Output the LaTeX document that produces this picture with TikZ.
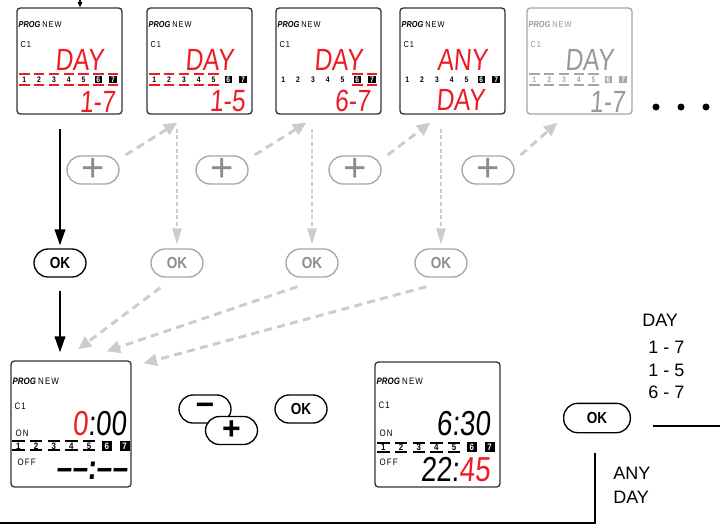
\documentclass[tikz,border=0pt]{standalone}
\usepackage{fontspec}
\setmainfont{Liberation Sans}
\newfontfamily\lcdfont[FakeStretch=0.8,FakeSlant=0.08]{Liberation Sans}
\newfontfamily\condfont[FakeStretch=0.85]{Liberation Sans}
\newfontfamily\spacedfont[FakeStretch=0.85,LetterSpace=12]{Liberation Sans}
\usetikzlibrary{calc,arrows.meta}

\definecolor{lcdred}{RGB}{237,28,36}
\tikzset{
  lcdframe/.style={draw=black!80,line width=1pt,rounded corners=2.5pt,inner sep=0pt,
    minimum width=78.75pt,minimum height=79.5pt},
  btn/.style={draw=black,fill=white,line width=1pt,rounded corners=10.5pt,inner sep=0pt,
    minimum width=39pt,minimum height=21pt},
  gbtn/.style={btn,draw=black!35,text=black!45},
  oktext/.style={font=\condfont\bfseries\fontsize{12}{12}\selectfont},
  plustext/.style={font=\fontsize{30}{30}\selectfont},
  small/.style={font=\condfont\fontsize{6.5}{6.5}\selectfont,anchor=west,inner sep=0pt},
  daynum/.style={font=\condfont\bfseries\fontsize{6}{6}\selectfont,inner sep=0pt,
    minimum size=5.5pt},
  lcdbig/.style={font=\lcdfont\fontsize{23}{23}\selectfont,inner sep=0pt},
  rtext/.style={font=\fontsize{13.5}{14}\selectfont,anchor=west,inner sep=0pt},
  blk/.style={line width=1.4pt,-{Triangle[length=12pt,width=8pt]}},
  gdash/.style={draw=black!20,line width=2.2pt,dash pattern=on 6pt off 4pt,
    -{Triangle[length=10pt,width=9pt]}},
  gdot/.style={draw=black!20,line width=0.9pt,dash pattern=on 3pt off 2pt,
    -{Triangle[length=12pt,width=7pt]}},
  frameline/.style={line width=1.1pt}
}
% header of a display: PROG NEW and C1
\newcommand{\proghead}[3]{%
  \node[small,text=#1] at (2,#2) {\textbf{\textit{PROG}} {\spacedfont NEW}};
  \node[small,text=#1] at (4,#3) {\spacedfont C1};
}
% day numbers 1..7, 6 and 7 inverted
\newcommand{\dayrow}[4]{%
  \foreach \n in {1,...,5}
    \node[daynum,text=#4] at ({#2+(\n-1)*#3},#1) {\n};
  \foreach \n in {6,7}
    \node[daynum,fill=#4,text=white] at ({#2+(\n-1)*#3},#1) {\n};
}
% bars above and below the chosen days
\newcommand{\daybars}[6]{%
  \foreach \n in {#4}
    \draw[#5,line width=1.5pt] ({#2+(\n-1)*#3-0.35*#3},#1-#6) -- ++({0.7*#3},0)
      ({#2+(\n-1)*#3-0.35*#3},#1+#6) -- ++({0.7*#3},0);
}

\begin{document}
\begin{tikzpicture}[x=0.75pt,y=-0.75pt]
  \useasboundingbox (0,0) rectangle (720,525);
  % top row of displays
  \node[lcdframe] (d1) at (69.5,61) {};
  \node[lcdframe] (d2) at (199.5,61) {};
  \node[lcdframe] (d3) at (328.5,61) {};
  \node[lcdframe] (d4) at (452.5,61) {};
  \node[lcdframe,draw=black!35] (d5) at (579.5,61) {};
  \begin{scope}[shift={(d1.north west)}]
    \proghead{black}{17}{37}
    \node[lcdbig,text=lcdred] at (63,53) {DAY};
    \daybars{72}{8}{14.8}{1,...,7}{lcdred}{5.5}
    \dayrow{72}{8}{14.8}{black}
    \node[lcdbig,text=lcdred] at (81,95) {1-7};
  \end{scope}
  \begin{scope}[shift={(d2.north west)}]
    \proghead{black}{17}{37}
    \node[lcdbig,text=lcdred] at (63,53) {DAY};
    \daybars{72}{8}{14.8}{1,...,5}{lcdred}{5.5}
    \dayrow{72}{8}{14.8}{black}
    \node[lcdbig,text=lcdred] at (81,94) {1-5};
  \end{scope}
  \begin{scope}[shift={(d3.north west)}]
    \proghead{black}{17}{37}
    \node[lcdbig,text=lcdred] at (63,53) {DAY};
    \daybars{72}{8}{14.8}{6,7}{lcdred}{5.5}
    \dayrow{72}{8}{14.8}{black}
    \node[lcdbig,text=lcdred] at (77,94) {6-7};
  \end{scope}
  \begin{scope}[shift={(d4.north west)}]
    \proghead{black}{17}{37}
    \node[lcdbig,text=lcdred] at (63,53) {ANY};
    \dayrow{72}{8}{14.8}{black}
    \node[lcdbig,text=lcdred] at (61,93) {DAY};
  \end{scope}
  \begin{scope}[shift={(d5.north west)}]
    \proghead{black!40}{17}{37}
    \node[lcdbig,text=black!40] at (63,53) {DAY};
    \daybars{72}{8}{14.8}{1,...,5}{black!35}{5.5}
    \dayrow{72}{8}{14.8}{black!35}
    \node[lcdbig,text=black!40] at (81,95) {1-7};
  \end{scope}
  \coordinate (in) at (80,0);
  \draw[line width=0.8pt,-{Triangle[length=4pt,width=3.5pt]}] (in) -- (in |- d1.north);
  \foreach \x in {656,681,706} \fill (\x,107) circle (3.5);

  % plus buttons and OK buttons
  \foreach \i/\x in {1/93,2/222,3/355,4/488}
    \node[gbtn,plustext] (p\i) at (\x,170) {+};
  \node[btn,oktext] (ok1) at (60,263) {OK};
  \foreach \i/\x in {2/177,3/312,4/441}
    \node[gbtn,oktext] (ok\i) at (\x,263) {OK};
  \foreach \p/\d in {p1/d2,p2/d3,p3/d4,p4/d5}
    \draw[gdash] ($(\p.east)+(6,-15)$) -- ($(\d.south west)+(31,8)$);
  \foreach \d/\o in {d2/ok2,d3/ok3,d4/ok4}
    \draw[gdot] ($(\o.north |- \d.south)+(0,14)$) -- ($(\o.north)+(0,-4)$);
  \draw[blk] ($(ok1.north |- d1.south)+(0,14)$) -- ($(ok1.north)+(0,-3)$);

  % bottom displays
  \node[lcdframe,minimum width=90pt,minimum height=94.5pt] (e1) at (71,424) {};
  \node[lcdframe,minimum width=93.75pt,minimum height=93.75pt] (e2) at (437.5,424.5) {};
  \draw[blk] ($(ok1.south)+(0,13)$) -- ($(ok1.south |- e1.north)+(0,-8)$);
  \draw[gdash] ($(ok2.south west)+(10,10)$) -- ($(e1.north)+(7,-11)$);
  \draw[gdash] ($(ok3.south west)+(12,9)$) -- ($(e1.north east)+(-25,-9)$);
  \draw[gdash] ($(ok4.south west)+(12,9)$) -- ($(e1.north east)+(12,3)$);
  \begin{scope}[shift={(e1.north west)},
      small/.append style={font=\condfont\fontsize{7}{7}\selectfont},
      daynum/.append style={font=\condfont\bfseries\fontsize{7}{7}\selectfont,minimum size=7.5pt},
      lcdbig/.append style={font=\lcdfont\fontsize{26}{26}\selectfont}]
    \proghead{black}{21}{46}
    \node[small] at (5,73) {\spacedfont ON};
    \node[small] at (7,102) {\spacedfont OFF};
    \node[lcdbig] at (89,63) {{\color{lcdred}0}:00};
    \daybars{85.5}{8}{17.7}{1,...,5}{black}{4.5}
    \dayrow{85.5}{8}{17.7}{black}
    \node[lcdbig] at (82,110) {\bfseries ––:––};
  \end{scope}
  \begin{scope}[shift={(e2.north west)},
      small/.append style={font=\condfont\fontsize{7}{7}\selectfont},
      daynum/.append style={font=\condfont\bfseries\fontsize{7}{7}\selectfont,minimum size=7.5pt},
      lcdbig/.append style={font=\lcdfont\fontsize{26}{26}\selectfont}]
    \proghead{black}{20}{44}
    \node[small] at (5,72) {\spacedfont ON};
    \node[small] at (5,101) {\spacedfont OFF};
    \node[lcdbig] at (89,62.5) {6:30};
    \daybars{86}{9}{17.7}{1,...,5}{black}{4.5}
    \dayrow{86}{9}{17.7}{black}
    \node[lcdbig] at (81,108) {22:{\color{lcdred}45}};
  \end{scope}

  % minus / plus and OK
  \node[btn,font=\bfseries\fontsize{24}{24}\selectfont] (minus) at (205,409) {−};
  \node[btn,font=\bfseries\fontsize{24}{24}\selectfont] (plus) at (231.5,430.5) {+};
  \node[btn,oktext] (okB) at (301,409) {OK};

  % choice of days on the right
  \node[rtext] (tday) at (642,320) {DAY};
  \node[rtext] (t17) at (648,347) {1 - 7};
  \node[rtext] (t15) at (648,370) {1 - 5};
  \node[rtext] (t67) at (648,392) {6 - 7};
  \node[btn,oktext,minimum width=50pt,minimum height=22pt] (okR) at (597,418) {OK};
  \node[rtext] (tany) at (613,473) {ANY};
  \node[rtext] (tanyday) at (613,497) {DAY};
  \coordinate (r1) at (653,426); \coordinate (r2) at (720,426);
  \coordinate (v1) at (595,453); \coordinate (v2) at (595,523); \coordinate (h0) at (0,523);
  \draw[frameline] (r1) -- (r2);
  \draw[frameline] (v1) -- (v2) -- (h0);
\end{tikzpicture}
\end{document}
